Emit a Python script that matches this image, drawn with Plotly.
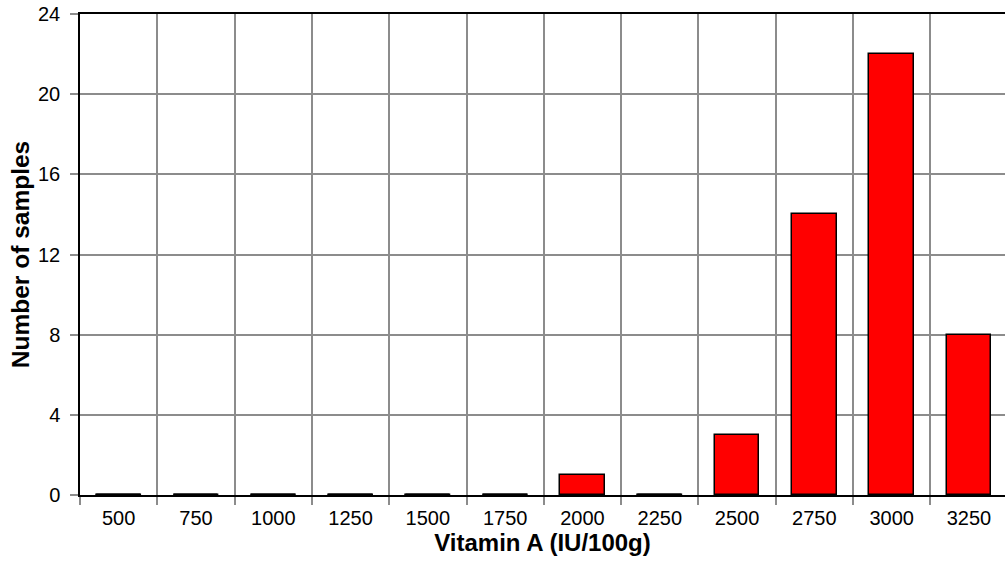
import plotly.graph_objects as go

categories = ["500", "750", "1000", "1250", "1500", "1750", "2000", "2250", "2500", "2750", "3000", "3250"]
counts = [0, 0, 0, 0, 0, 0, 1, 0, 3, 14, 22, 8]
y_ticks = [0, 4, 8, 12, 16, 20, 24]

bar_w = 0.58
pos = list(range(len(categories)))
bounds = [i - 0.5 for i in range(len(categories) + 1)]

fig = go.Figure()
fig.add_trace(go.Bar(
    x=pos, y=counts, width=bar_w,
    marker=dict(color="#FF0000", line=dict(color="black", width=1.5)),
    showlegend=False,
))

# zero-height bars are drawn as flat outlines on the baseline
zx, zy = [], []
for i, v in enumerate(counts):
    if v == 0:
        zx += [i - bar_w / 2, i + bar_w / 2, None]
        zy += [v, v, None]
fig.add_trace(go.Scatter(x=zx, y=zy, mode="lines", line=dict(color="black", width=3),
                         showlegend=False, hoverinfo="skip", cliponaxis=False))

gray = "#8c8c8c"
fig.update_layout(
    width=1005, height=563,
    margin=dict(l=80, r=0, t=14, b=68),
    plot_bgcolor="white", paper_bgcolor="white",
    font=dict(family="Liberation Sans, Arial, sans-serif", size=20, color="black"),
    bargap=0,
    xaxis=dict(
        automargin=False,
        range=[-0.5, 11.466],
        tickmode="array", tickvals=pos, ticktext=categories,
        ticks="", showgrid=False, zeroline=False,
        showline=True, linecolor="black", linewidth=1.5, mirror=True,
        minor=dict(tickvals=bounds, showgrid=True, gridcolor=gray, gridwidth=1.5,
                   ticks="outside", ticklen=8, tickcolor=gray, tickwidth=1.5),
        title=dict(text="<b>Vitamin A (IU/100g)</b>", font=dict(size=24), standoff=4),
        tickfont=dict(size=20),
        ticklabelstandoff=4,
    ),
    yaxis=dict(
        automargin=False,
        range=[0, 24], tickmode="array", tickvals=y_ticks,
        showgrid=True, gridcolor=gray, gridwidth=1.5, zeroline=False,
        ticks="outside", ticklen=8, tickcolor=gray, tickwidth=1.5,
        showline=True, linecolor="black", linewidth=1.5,
        title=dict(text="<b>Number of samples</b>", font=dict(size=24.5), standoff=1),
        tickfont=dict(size=20),
        ticklabelstandoff=6,
        ticklabeloverflow="allow",
    ),
)

# remove the default page margin so the figure fills the window exactly
fig.write_html("out.html",
               config={"displayModeBar": False},
               post_script="document.body.style.margin='0';document.body.style.overflow='hidden';")
